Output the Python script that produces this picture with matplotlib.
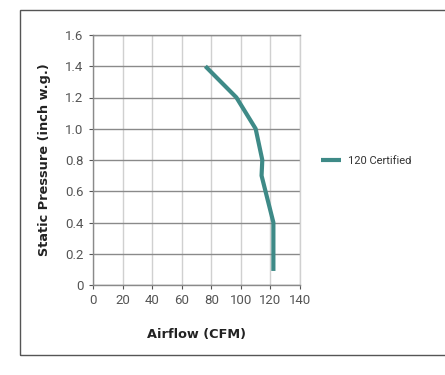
import matplotlib
matplotlib.use("Agg")
import matplotlib.pyplot as plt
from matplotlib.patches import Rectangle

# fan curve data
airflow = [76, 97, 110, 114.5, 114, 122, 122]
pressure = [1.4, 1.2, 1.0, 0.8, 0.7, 0.4, 0.09]
series_name = "120 Certified"

x_ticks = [0, 20, 40, 60, 80, 100, 120, 140]
y_ticks = [0, 0.2, 0.4, 0.6, 0.8, 1.0, 1.2, 1.4, 1.6]
y_labels = ["0", "0.2", "0.4", "0.6", "0.8", "1.0", "1.2", "1.4", "1.6"]

plt.rcParams['font.family'] = ['Roboto', 'DejaVu Sans']

W, H = 445, 375
fig = plt.figure(figsize=(W / 100, H / 100), dpi=100)

# outer frame
fig.patches.append(Rectangle((20 / W, 1 - 355 / H), 440 / W, 345 / H,
                             transform=fig.transFigure, fill=False,
                             edgecolor="#555555", linewidth=1.0))

ax = fig.add_axes([93 / W, 1 - 285 / H, 207 / W, 250 / H])
ax.plot(airflow, pressure, color="#3e8a87", linewidth=3, label=series_name,
        solid_capstyle="butt")

ax.set_xlim(0, 140)
ax.set_ylim(0, 1.6)
ax.set_xticks(x_ticks)
ax.set_yticks(y_ticks)
ax.set_yticklabels(y_labels)
ax.tick_params(colors="#555555", labelsize=9.5, length=3, width=0.8)
ax.tick_params(axis="y", length=3, pad=4)

ax.grid(axis="x", color="#d0d0d0", linewidth=1)
ax.grid(axis="y", color="#8a8a8a", linewidth=1)
ax.set_axisbelow(True)
for s in ax.spines.values():
    s.set_color("#8a8a8a")
    s.set_linewidth(1)
ax.spines["right"].set_color("#d0d0d0")

ax.set_xlabel("Airflow (CFM)", fontsize=9.3, fontweight="bold", color="#222222",
              family="DejaVu Sans", labelpad=15)
ax.set_ylabel("Static Pressure (inch w.g.)", fontsize=9.3, fontweight="bold",
              color="#222222", family="DejaVu Sans", labelpad=10)

fig.legend(loc="center left", bbox_to_anchor=(311 / W, 1 - 161 / H),
           frameon=False, fontsize=8, handlelength=1.8, handletextpad=0.6,
           labelcolor="#333333")

fig.savefig("out.png", dpi=100)
